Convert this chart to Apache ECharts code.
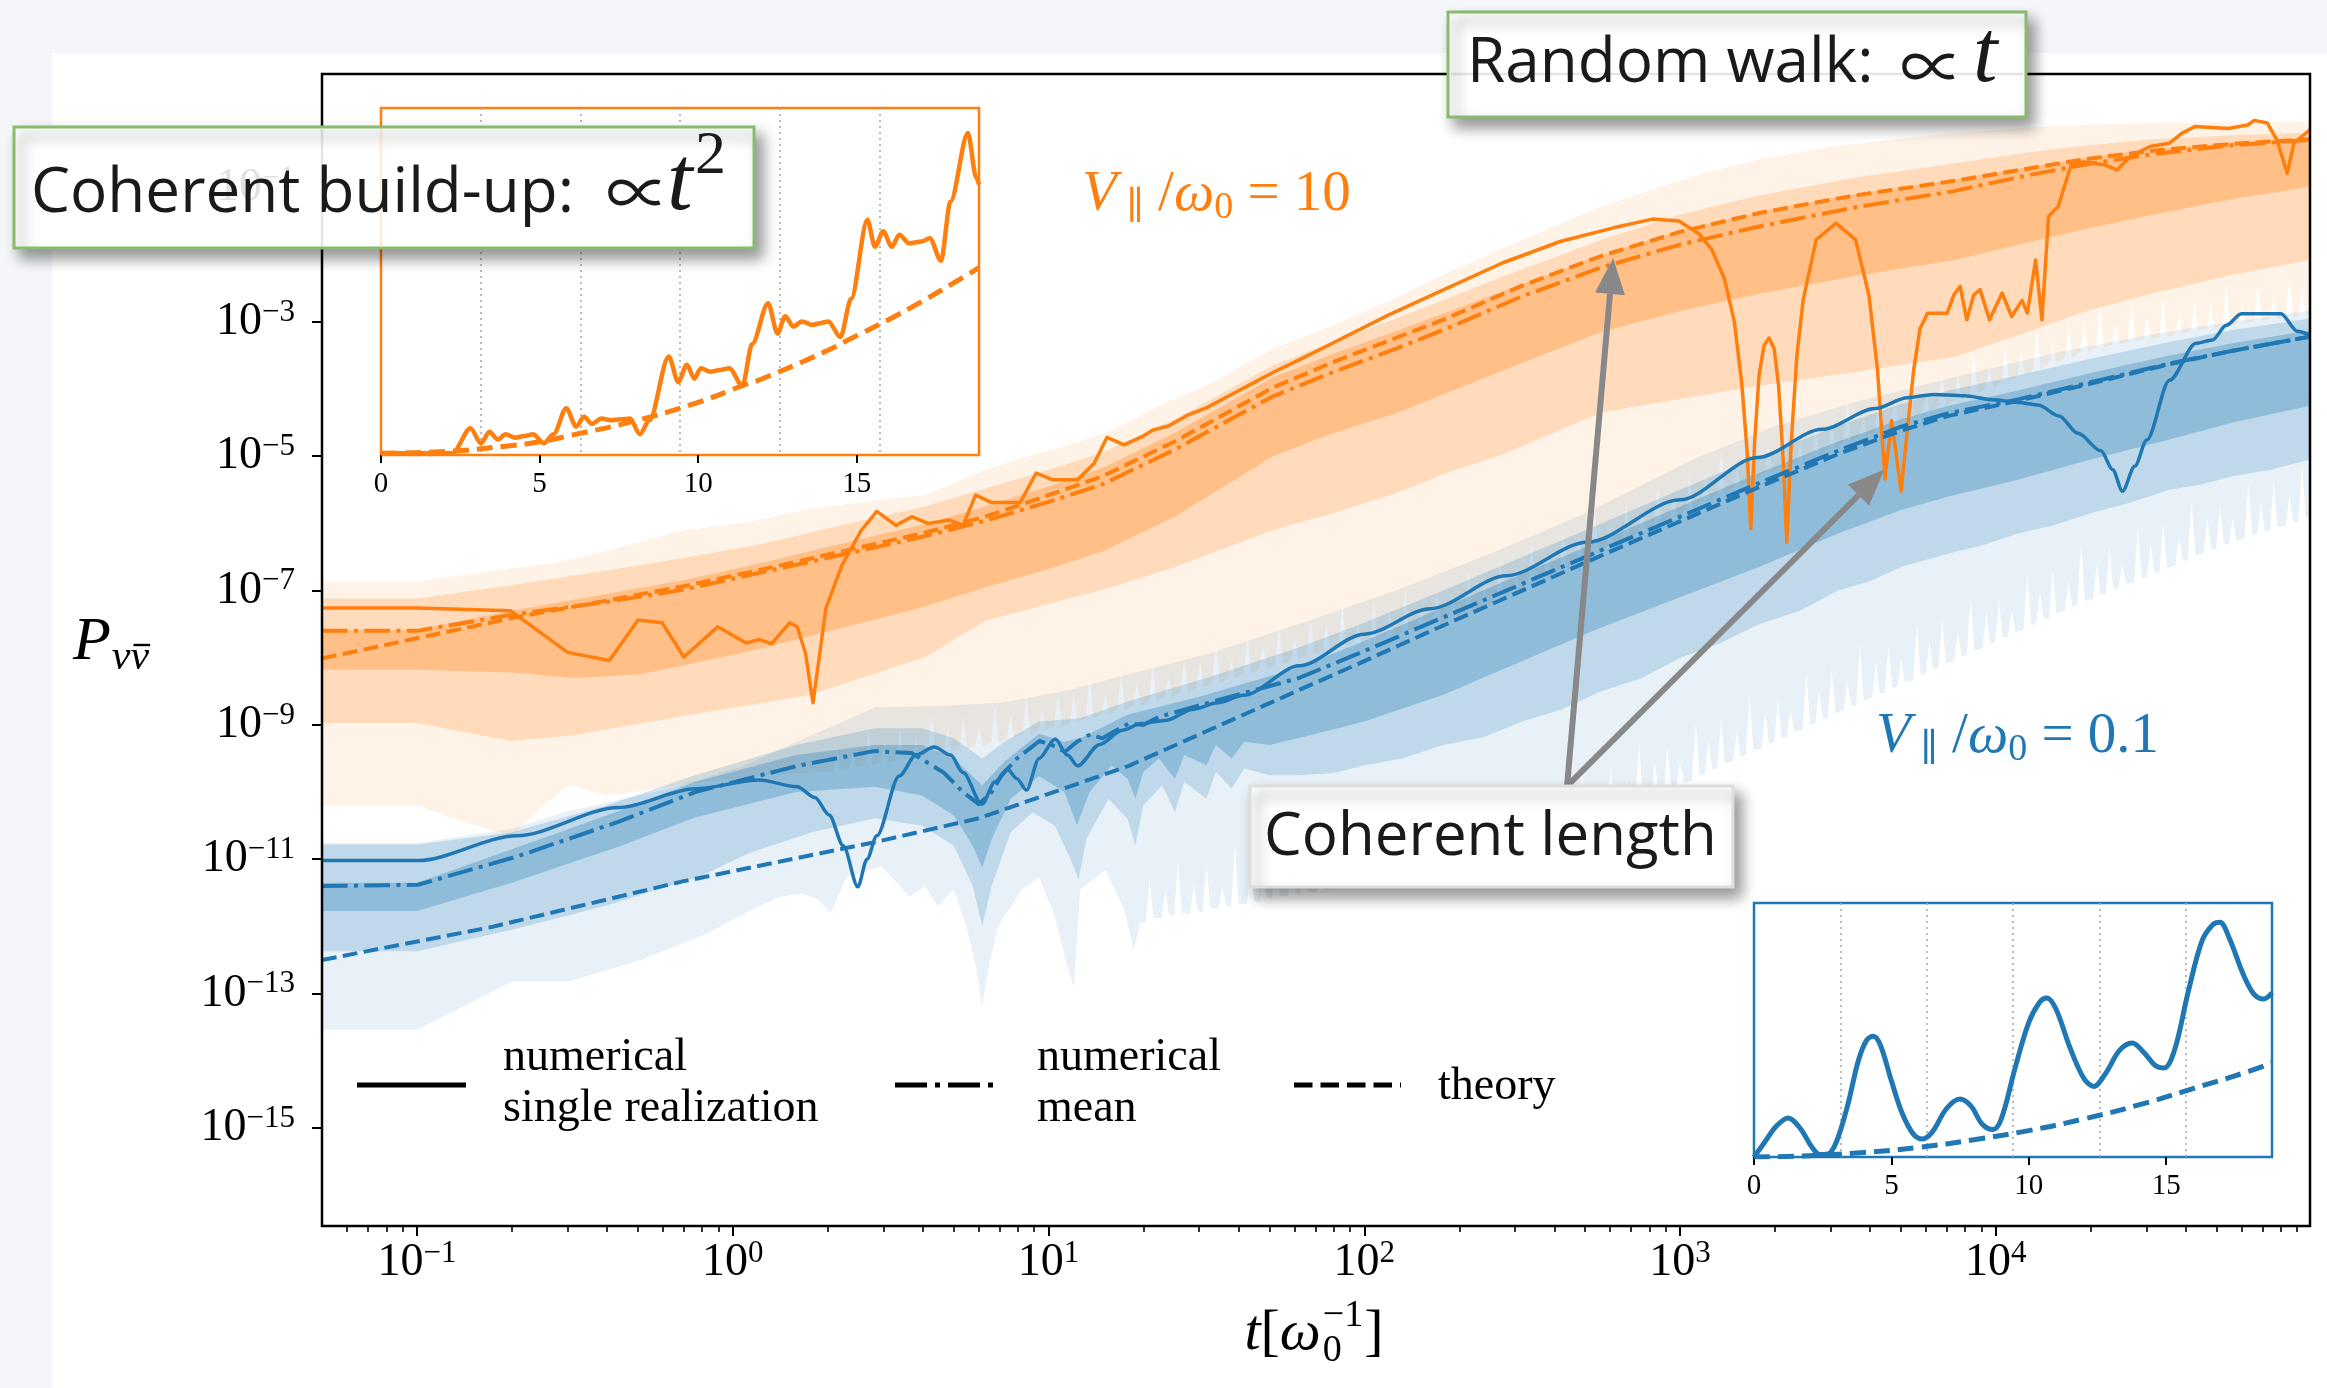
<!DOCTYPE html>
<html>
<head>
<meta charset="utf-8">
<script src="https://cdn.jsdelivr.net/npm/echarts@6/dist/echarts.min.js"></script>
<style>
html,body{margin:0;padding:0;background:#f4f6fa;}
#wrap{position:relative;width:2327px;height:1388px;overflow:hidden;}
#paper{position:absolute;left:52px;top:53px;right:0;bottom:0;background:#ffffff;}
#chart{position:absolute;left:0;top:0;width:2327px;height:1388px;}
</style>
</head>
<body>
<div id="wrap"><div id="paper"></div><div id="chart"></div></div>
<script>
// ---------------- DATA (x = log10 t, y = log10 P) ----------------
const X_MAJOR = [-1, 0, 1, 2, 3, 4];
const Y_MAJOR = [-15, -13, -11, -9, -7, -5, -3, -1];
const INSET_TICKS = [0, 5, 10, 15];

const orangeSingle = [[-1.301,-7.26],[-1.0,-7.26],[-0.704,-7.30],[-0.523,-7.92],[-0.391,-8.04],[-0.30,-7.44],[-0.224,-7.48],[-0.155,-7.99],[-0.048,-7.54],[0.042,-7.78],[0.083,-7.73],[0.123,-7.79],[0.18,-7.48],[0.204,-7.54],[0.23,-7.93],[0.254,-8.67],[0.275,-7.95],[0.295,-7.26],[0.345,-6.63],[0.406,-6.11],[0.456,-5.82],[0.517,-6.03],[0.567,-5.90],[0.618,-6.00],[0.688,-5.95],[0.729,-6.03],[0.769,-5.58],[0.82,-5.69],[0.91,-5.69],[0.961,-5.25],[1.011,-5.35],[1.092,-5.35],[1.144,-5.11],[1.185,-4.72],[1.239,-4.83],[1.30,-4.70],[1.331,-4.61],[1.38,-4.55],[1.44,-4.39],[1.50,-4.28],[1.567,-4.11],[1.64,-3.93],[1.712,-3.75],[1.80,-3.55],[1.894,-3.33],[2.076,-2.90],[2.257,-2.51],[2.439,-2.12],[2.623,-1.80],[2.789,-1.60],[2.913,-1.47],[2.996,-1.50],[3.058,-1.68],[3.10,-1.92],[3.14,-2.35],[3.172,-3.00],[3.195,-3.90],[3.212,-4.90],[3.224,-6.08],[3.236,-4.80],[3.25,-3.80],[3.266,-3.35],[3.282,-3.24],[3.298,-3.40],[3.312,-3.95],[3.326,-5.00],[3.338,-6.28],[3.352,-4.80],[3.37,-3.50],[3.39,-2.67],[3.431,-1.78],[3.494,-1.53],[3.556,-1.78],[3.598,-2.60],[3.625,-3.70],[3.649,-5.34],[3.67,-4.47],[3.70,-5.52],[3.72,-4.60],[3.74,-3.71],[3.76,-3.10],[3.784,-2.87],[3.846,-2.87],[3.867,-2.60],[3.887,-2.47],[3.908,-2.97],[3.93,-2.60],[3.95,-2.52],[3.98,-2.97],[4.02,-2.57],[4.05,-2.92],[4.083,-2.68],[4.10,-2.87],[4.126,-2.08],[4.146,-2.97],[4.167,-1.43],[4.198,-1.28],[4.24,-0.64],[4.28,-0.62],[4.343,-0.66],[4.384,-0.74],[4.426,-0.54],[4.488,-0.39],[4.55,-0.34],[4.59,-0.19],[4.632,-0.09],[4.736,-0.12],[4.798,-0.07],[4.819,0.0],[4.86,-0.04],[4.89,-0.29],[4.923,-0.79],[4.944,-0.34],[4.995,-0.14]];
const orangeMean = [[-1.301,-7.60],[-1.0,-7.60],[-0.70,-7.36],[-0.40,-7.17],[-0.16,-6.99],[0.10,-6.72],[0.39,-6.42],[0.60,-6.20],[0.80,-5.96],[1.00,-5.68],[1.17,-5.42],[1.40,-4.90],[1.71,-4.11],[1.90,-3.75],[2.10,-3.40],[2.26,-3.10],[2.50,-2.62],[2.75,-2.19],[3.00,-1.85],[3.25,-1.58],[3.55,-1.30],[3.87,-1.05],[4.10,-0.82],[4.28,-0.66],[4.50,-0.50],[4.75,-0.37],[4.995,-0.29]];
const orangeTheory = [[-1.301,-8.01],[-1.0,-7.71],[-0.70,-7.41],[-0.40,-7.15],[-0.16,-6.94],[0.10,-6.68],[0.39,-6.37],[0.60,-6.15],[0.80,-5.90],[1.00,-5.58],[1.17,-5.30],[1.40,-4.78],[1.71,-3.98],[1.90,-3.60],[2.10,-3.24],[2.26,-2.95],[2.50,-2.46],[2.75,-2.02],[3.00,-1.66],[3.25,-1.38],[3.55,-1.12],[3.87,-0.90],[4.10,-0.72],[4.28,-0.58],[4.50,-0.45],[4.75,-0.35],[4.995,-0.28]];

const blueSingle = [[-1.301,-11.02],[-0.997,-11.02],[-0.684,-10.65],[-0.361,-10.23],[-0.119,-9.95],[0.083,-9.82],[0.204,-9.92],[0.26,-10.08],[0.305,-10.34],[0.35,-10.80],[0.396,-11.41],[0.425,-11.00],[0.456,-10.65],[0.527,-9.76],[0.58,-9.45],[0.638,-9.33],[0.69,-9.45],[0.729,-9.71],[0.789,-10.18],[0.83,-9.85],[0.87,-9.66],[0.90,-9.80],[0.93,-9.97],[0.97,-9.50],[1.021,-9.21],[1.06,-9.45],[1.092,-9.61],[1.162,-9.29],[1.233,-9.08],[1.294,-8.98],[1.374,-8.93],[1.455,-8.77],[1.536,-8.67],[1.617,-8.56],[1.794,-8.12],[2.0,-7.65],[2.209,-7.27],[2.45,-6.78],[2.706,-6.28],[3.0,-5.65],[3.245,-5.02],[3.45,-4.60],[3.618,-4.29],[3.72,-4.13],[3.804,-4.08],[3.90,-4.10],[3.991,-4.16],[4.07,-4.20],[4.136,-4.24],[4.20,-4.40],[4.26,-4.66],[4.333,-4.92],[4.37,-5.20],[4.401,-5.52],[4.44,-5.15],[4.478,-4.76],[4.55,-3.87],[4.634,-3.32],[4.686,-3.27],[4.73,-3.05],[4.778,-2.88],[4.85,-2.88],[4.903,-2.88],[4.955,-3.14],[4.995,-3.20]];
const blueMean = [[-1.301,-11.40],[-0.997,-11.38],[-0.684,-10.96],[-0.361,-10.44],[-0.119,-10.00],[0.204,-9.61],[0.446,-9.39],[0.567,-9.42],[0.668,-9.71],[0.729,-10.00],[0.779,-10.18],[0.82,-10.00],[0.85,-9.76],[0.90,-9.50],[0.971,-9.24],[1.01,-9.30],[1.052,-9.40],[1.09,-9.25],[1.133,-9.14],[1.17,-9.20],[1.20,-9.12],[1.254,-8.98],[1.30,-9.00],[1.35,-8.88],[1.455,-8.74],[1.60,-8.55],[1.794,-8.30],[2.0,-7.90],[2.25,-7.40],[2.5,-6.90],[2.75,-6.40],[3.0,-5.90],[3.25,-5.40],[3.5,-4.92],[3.7,-4.56],[3.85,-4.36],[4.074,-4.15],[4.3,-3.90],[4.55,-3.62],[4.75,-3.43],[4.995,-3.22]];
const blueTheory = [[-1.301,-12.50],[-0.765,-12.01],[-0.159,-11.33],[0.446,-10.75],[0.779,-10.39],[1.254,-9.61],[1.794,-8.48],[2.0,-8.05],[2.25,-7.52],[2.5,-7.00],[2.75,-6.48],[3.0,-5.97],[3.25,-5.46],[3.5,-4.97],[3.7,-4.62],[3.85,-4.40],[4.074,-4.17],[4.3,-3.92],[4.55,-3.63],[4.75,-3.43],[4.995,-3.22]];

// percentile bands (upper / lower edges)
const orangeOuterUpper = [[-1.301,-6.87],[-1.0,-6.87],[-0.75,-6.70],[-0.55,-6.58],[-0.35,-6.35],[-0.16,-6.11],[0.05,-5.98],[0.24,-5.79],[0.45,-5.66],[0.61,-5.58],[0.70,-5.40],[0.79,-5.22],[0.90,-5.05],[1.05,-4.85],[1.20,-4.62],[1.35,-4.25],[1.50,-3.95],[1.71,-3.40],[1.90,-3.05],[2.08,-2.69],[2.25,-2.30],[2.44,-1.90],[2.60,-1.58],[2.74,-1.30],[2.90,-1.05],[3.05,-0.82],[3.25,-0.58],[3.50,-0.38],[3.87,-0.19],[4.20,-0.08],[4.49,-0.04],[4.995,-0.02]];
const orangeOuterLower = [[-1.301,-10.20],[-1.0,-10.20],[-0.85,-10.45],[-0.70,-10.65],[-0.60,-10.2],[-0.52,-9.89],[-0.40,-10.05],[-0.25,-9.95],[-0.10,-9.85],[0.0,-9.8],[0.10,-9.75],[0.20,-9.72],[0.30,-9.70],
[0.318,-9.68],[0.33,-9.28],[0.342,-9.68],[0.368,-9.64],[0.38,-9.39],[0.392,-9.64],[0.418,-9.6],[0.43,-9.1],[0.442,-9.6],[0.468,-9.56],[0.48,-9.26],[0.492,-9.56],[0.518,-9.52],[0.53,-9.07],[0.542,-9.52],[0.568,-9.48],[0.58,-9.18],[0.592,-9.48],[0.618,-9.44],[0.63,-8.84],[0.642,-9.44],[0.668,-9.4],[0.68,-9.05],[0.692,-9.4],[0.718,-9.36],[0.73,-8.86],[0.742,-9.36],[0.768,-9.32],[0.78,-9.02],[0.792,-9.32],[0.818,-9.26],[0.83,-8.71],[0.842,-9.26],[0.868,-9.2],[0.88,-8.85],[0.892,-9.2],[0.918,-9.14],[0.93,-8.54],[0.942,-9.14],[0.968,-9.08],[0.98,-8.78],[0.992,-9.08],
[1.018,-9.02],[1.03,-8.52],[1.042,-9.02],[1.068,-8.96],[1.08,-8.56],[1.092,-8.96],[1.118,-8.9],[1.13,-8.25],[1.142,-8.9],[1.168,-8.84],[1.18,-8.54],[1.192,-8.84],[1.218,-8.78],[1.23,-8.23],[1.242,-8.78],[1.268,-8.72],[1.28,-8.37],[1.292,-8.72],[1.318,-8.66],[1.33,-8.06],[1.342,-8.66],[1.368,-8.59],[1.38,-8.29],[1.392,-8.59],[1.418,-8.52],[1.43,-8.02],[1.442,-8.52],[1.468,-8.45],[1.48,-8.05],[1.492,-8.45],[1.518,-8.38],[1.53,-7.73],[1.542,-8.38],[1.568,-8.31],[1.58,-8.01],[1.592,-8.31],[1.618,-8.24],[1.63,-7.69],[1.642,-8.24],[1.668,-8.17],[1.68,-7.82],[1.692,-8.17],[1.718,-8.1],[1.73,-7.5],[1.742,-8.1],[1.768,-8.03],[1.78,-7.73],[1.792,-8.03],[1.818,-7.96],[1.83,-7.46],[1.842,-7.96],[1.868,-7.9],[1.88,-7.5],[1.892,-7.9],[1.918,-7.84],[1.93,-7.19],[1.942,-7.84],[1.968,-7.78],[1.98,-7.48],[1.992,-7.78],
[2.018,-7.72],[2.03,-7.17],[2.042,-7.72],[2.068,-7.66],[2.08,-7.31],[2.092,-7.66],[2.118,-7.6],[2.13,-7.0],[2.142,-7.6],[2.168,-7.54],[2.18,-7.24],[2.192,-7.54],[2.218,-7.48],[2.23,-6.98],[2.242,-7.48],[2.268,-7.42],[2.28,-7.02],[2.292,-7.42],[2.318,-7.33],[2.33,-6.68],[2.342,-7.33],[2.368,-7.22],[2.38,-6.92],[2.392,-7.22],[2.418,-7.11],[2.43,-6.56],[2.442,-7.11],[2.468,-7.0],[2.48,-6.65],[2.492,-7.0],[2.518,-6.89],[2.53,-6.29],[2.542,-6.89],[2.568,-6.78],[2.58,-6.48],[2.592,-6.78],[2.618,-6.67],[2.63,-6.17],[2.642,-6.67],[2.668,-6.56],[2.68,-6.16],[2.692,-6.56],[2.718,-6.45],[2.73,-5.8],[2.742,-6.45],[2.768,-6.34],[2.78,-6.04],[2.792,-6.34],[2.818,-6.23],[2.83,-5.68],[2.842,-6.23],[2.868,-6.12],[2.88,-5.77],[2.892,-6.12],[2.918,-6.01],[2.93,-5.41],[2.942,-6.01],[2.968,-5.9],[2.98,-5.6],[2.992,-5.9],
[3.018,-5.79],[3.03,-5.29],[3.042,-5.79],[3.068,-5.68],[3.08,-5.28],[3.092,-5.68],[3.118,-5.57],[3.13,-4.92],[3.142,-5.57],[3.168,-5.46],[3.18,-5.16],[3.192,-5.46],[3.218,-5.35],[3.23,-4.8],[3.242,-5.35],[3.268,-5.24],[3.28,-4.89],[3.292,-5.24],[3.318,-5.15],[3.33,-4.55],[3.342,-5.15],[3.368,-5.06],[3.38,-4.76],[3.392,-5.06],[3.418,-4.97],[3.43,-4.47],[3.442,-4.97],[3.468,-4.88],[3.48,-4.48],[3.492,-4.88],[3.518,-4.79],[3.53,-4.14],[3.542,-4.79],[3.568,-4.7],[3.58,-4.4],[3.592,-4.7],[3.618,-4.61],[3.63,-4.06],[3.642,-4.61],[3.668,-4.52],[3.68,-4.17],[3.692,-4.52],[3.718,-4.43],[3.73,-3.83],[3.742,-4.43],[3.768,-4.34],[3.78,-4.04],[3.792,-4.34],[3.818,-4.25],[3.83,-3.75],[3.842,-4.25],[3.868,-4.16],[3.88,-3.76],[3.892,-4.16],[3.918,-4.07],[3.93,-3.42],[3.942,-4.07],[3.968,-3.98],[3.98,-3.68],[3.992,-3.98],
[4.018,-3.89],[4.03,-3.34],[4.042,-3.89],[4.068,-3.8],[4.08,-3.45],[4.092,-3.8],[4.118,-3.71],[4.13,-3.11],[4.142,-3.71],[4.168,-3.62],[4.18,-3.32],[4.192,-3.62],[4.218,-3.53],[4.23,-3.03],[4.242,-3.53],[4.268,-3.44],[4.28,-3.04],[4.292,-3.44],[4.318,-3.38],[4.33,-2.73],[4.342,-3.38],[4.368,-3.34],[4.38,-3.04],[4.392,-3.34],[4.418,-3.3],[4.43,-2.75],[4.442,-3.3],[4.468,-3.26],[4.48,-2.91],[4.492,-3.26],[4.518,-3.22],[4.53,-2.62],[4.542,-3.22],[4.568,-3.18],[4.58,-2.88],[4.592,-3.18],[4.618,-3.14],[4.63,-2.64],[4.642,-3.14],[4.668,-3.1],[4.68,-2.7],[4.692,-3.1],[4.718,-3.06],[4.73,-2.41],[4.742,-3.06],[4.768,-3.02],[4.78,-2.72],[4.792,-3.02],[4.818,-2.98],[4.83,-2.43],[4.842,-2.98],[4.868,-2.96],[4.88,-2.61],[4.892,-2.96],[4.918,-2.93],[4.93,-2.33],[4.942,-2.93],[4.958,-2.91],[4.97,-2.51],[4.982,-2.91],[4.995,-2.9]];
const orangeMidUpper = [[-1.301,-7.12],[-1.0,-7.12],[-0.70,-6.92],[-0.40,-6.70],[-0.16,-6.52],[0.10,-6.30],[0.39,-5.98],[0.60,-5.76],[0.80,-5.48],[1.00,-5.20],[1.17,-4.95],[1.40,-4.45],[1.71,-3.65],[1.90,-3.30],[2.10,-2.95],[2.26,-2.66],[2.44,-2.32],[2.75,-1.78],[3.00,-1.40],[3.25,-1.12],[3.55,-0.86],[3.87,-0.64],[4.10,-0.48],[4.28,-0.38],[4.50,-0.28],[4.75,-0.22],[4.995,-0.18]];
const orangeMidLower = [[-1.301,-8.97],[-1.0,-8.97],[-0.70,-9.24],[-0.50,-9.15],[-0.16,-8.87],[0.24,-8.56],[0.61,-7.99],[0.80,-7.45],[1.00,-7.20],[1.20,-6.95],[1.40,-6.65],[1.71,-6.10],[1.90,-5.85],[2.10,-5.55],[2.26,-5.25],[2.44,-4.97],[2.75,-4.35],[3.00,-4.15],[3.25,-3.95],[3.55,-3.75],[3.87,-3.52],[4.10,-3.15],[4.28,-2.85],[4.50,-2.57],[4.75,-2.30],[4.995,-2.08]];
const orangeInnerUpper = [[-1.301,-7.58],[-1.0,-7.58],[-0.70,-7.30],[-0.40,-7.05],[-0.16,-6.85],[0.10,-6.58],[0.39,-6.25],[0.60,-6.02],[0.80,-5.75],[1.00,-5.45],[1.17,-5.18],[1.40,-4.65],[1.71,-3.83],[1.90,-3.48],[2.10,-3.14],[2.26,-2.86],[2.44,-2.54],[2.75,-2.01],[3.00,-1.64],[3.25,-1.36],[3.55,-1.10],[3.87,-0.88],[4.10,-0.70],[4.28,-0.56],[4.50,-0.43],[4.75,-0.33],[4.995,-0.26]];
const orangeInnerLower = [[-1.301,-8.18],[-1.0,-8.18],[-0.70,-8.22],[-0.50,-8.30],[-0.30,-8.25],[-0.16,-8.12],[0.10,-7.85],[0.39,-7.50],[0.60,-7.25],[0.80,-6.95],[1.00,-6.68],[1.17,-6.42],[1.40,-5.90],[1.71,-5.00],[1.90,-4.66],[2.10,-4.36],[2.26,-4.06],[2.44,-3.72],[2.75,-3.15],[3.00,-2.84],[3.25,-2.58],[3.55,-2.32],[3.87,-2.08],[4.10,-1.82],[4.28,-1.62],[4.50,-1.40],[4.75,-1.17],[4.995,-0.99]];

const blueOuterUpper = [[-1.301,-10.76],[-1.0,-10.76],[-0.70,-10.55],[-0.52,-10.28],[-0.2,-9.95],[0.04,-9.60],[0.25,-9.15],[0.45,-8.74],[0.65,-8.72],[0.85,-8.67],[1.05,-8.50],[1.25,-8.25],[1.50,-7.95],[1.79,-7.50],[2.10,-7.00],[2.40,-6.45],[2.70,-5.85],[3.04,-5.05],[3.30,-4.55],[3.55,-4.20],[3.87,-3.82],[4.20,-3.45],[4.50,-3.18],[4.75,-3.00],[4.995,-2.83]];
const blueOuterLower = [[-1.301,-13.54],[-1.0,-13.54],[-0.70,-12.82],[-0.52,-12.82],[-0.29,-12.50],[-0.08,-12.10],[0.06,-11.75],[0.15,-11.56],[0.22,-11.51],[0.27,-11.60],[0.31,-11.80],[0.36,-11.26],[0.47,-11.11],[0.52,-11.35],[0.56,-11.56],[0.61,-11.41],[0.65,-11.70],[0.70,-11.45],[0.74,-12.00],[0.77,-12.6],[0.79,-13.19],[0.81,-12.6],[0.84,-12.00],[0.915,-11.45],[0.97,-11.26],[1.02,-11.85],[1.06,-12.60],[1.08,-12.9],[1.10,-11.45],[1.18,-11.16],[1.24,-11.75],[1.27,-12.35],[1.29,-11.95],
[1.308,-11.93],[1.32,-11.28],[1.332,-11.87],[1.358,-11.88],[1.37,-11.49],[1.382,-11.83],[1.398,-11.85],[1.41,-11.01],[1.422,-11.8],[1.448,-11.82],[1.46,-11.37],[1.472,-11.75],[1.488,-11.8],[1.50,-11.04],[1.512,-11.72],[1.538,-11.74],[1.55,-11.40],[1.562,-11.68],[1.578,-11.72],[1.59,-10.77],[1.602,-11.66],[1.628,-11.67],[1.64,-11.13],[1.652,-11.62],[1.668,-11.64],[1.68,-11.25],[1.692,-11.58],[1.708,-11.6],[1.72,-10.81],[1.732,-11.55],[1.758,-11.56],[1.77,-11.07],[1.782,-11.5],[1.798,-11.53],[1.81,-10.84],[1.822,-11.48],[1.848,-11.5],[1.86,-11.15],[1.872,-11.44],[1.888,-11.45],[1.90,-10.56],[1.912,-11.4],[1.938,-11.41],[1.95,-10.87],[1.962,-11.36],[1.978,-11.38],[1.99,-10.94],[2.002,-11.33],
[2.018,-11.35],[2.03,-10.6],[2.042,-11.29],[2.068,-11.3],[2.08,-10.91],[2.092,-11.25],[2.108,-11.27],[2.12,-10.42],[2.132,-11.21],[2.158,-11.22],[2.17,-10.73],[2.182,-11.17],[2.198,-11.19],[2.21,-10.55],[2.222,-11.14],[2.248,-11.15],[2.26,-10.2],[2.272,-11.09],[2.288,-11.11],[2.30,-10.67],[2.312,-11.06],[2.328,-11.08],[2.34,-10.38],[2.352,-11.02],[2.378,-11.02],[2.39,-10.63],[2.402,-10.96],[2.418,-10.96],[2.43,-10.17],[2.442,-10.9],[2.458,-10.9],[2.47,-10.35],[2.482,-10.83],[2.508,-10.8],[2.52,-9.91],[2.532,-10.74],[2.548,-10.73],[2.56,-10.29],[2.572,-10.67],[2.588,-10.66],[2.60,-10.02],[2.612,-10.6],[2.638,-10.58],[2.65,-10.19],[2.662,-10.52],[2.678,-10.51],[2.69,-9.67],[2.702,-10.45],[2.728,-10.43],[2.74,-9.94],[2.752,-10.37],[2.768,-10.36],[2.78,-9.62],[2.792,-10.3],[2.818,-10.27],[2.83,-9.83],[2.842,-10.21],[2.858,-10.2],[2.87,-9.26],[2.882,-10.13],[2.908,-10.1],[2.92,-9.55],[2.932,-10.02],[2.948,-10.01],[2.96,-9.32],[2.972,-9.94],[2.988,-9.92],[3.00,-9.53],[3.012,-9.86],
[3.038,-9.82],[3.05,-8.98],[3.062,-9.75],[3.078,-9.73],[3.09,-9.24],[3.102,-9.66],[3.118,-9.65],[3.13,-8.91],[3.142,-9.58],[3.168,-9.54],[3.18,-9.10],[3.192,-9.47],[3.208,-9.45],[3.22,-8.56],[3.232,-9.38],[3.258,-9.35],[3.27,-8.81],[3.282,-9.28],[3.298,-9.26],[3.31,-8.62],[3.322,-9.19],[3.338,-9.18],[3.35,-8.79],[3.362,-9.11],[3.388,-9.07],[3.40,-8.23],[3.412,-9.0],[3.428,-8.98],[3.44,-8.49],[3.452,-8.91],[3.468,-8.9],[3.48,-8.16],[3.492,-8.83],[3.518,-8.79],[3.53,-8.35],[3.542,-8.72],[3.558,-8.71],[3.57,-7.77],[3.582,-8.64],[3.608,-8.6],[3.62,-8.06],[3.632,-8.53],[3.648,-8.52],[3.66,-7.83],[3.672,-8.45],[3.688,-8.43],[3.70,-8.04],[3.712,-8.36],[3.738,-8.33],[3.75,-7.49],[3.762,-8.26],[3.778,-8.24],[3.79,-7.75],[3.802,-8.17],[3.818,-8.15],[3.83,-7.41],[3.842,-8.08],[3.868,-8.05],[3.88,-7.61],[3.892,-7.98],[3.908,-7.96],[3.92,-7.07],[3.932,-7.89],[3.958,-7.86],[3.97,-7.32],[3.982,-7.79],[3.998,-7.77],
[4.01,-7.13],[4.022,-7.7],[4.038,-7.69],[4.05,-7.30],[4.062,-7.62],[4.088,-7.58],[4.10,-6.74],[4.112,-7.51],[4.128,-7.5],[4.14,-7.01],[4.152,-7.43],[4.168,-7.41],[4.18,-6.67],[4.192,-7.34],[4.218,-7.3],[4.23,-6.86],[4.242,-7.23],[4.258,-7.22],[4.27,-6.28],[4.282,-7.15],[4.308,-7.13],[4.32,-6.59],[4.332,-7.06],[4.348,-7.05],[4.36,-6.36],[4.372,-6.98],[4.388,-6.97],[4.40,-6.58],[4.412,-6.9],[4.438,-6.88],[4.45,-6.04],[4.462,-6.81],[4.478,-6.8],[4.49,-6.31],[4.502,-6.73],[4.518,-6.73],[4.53,-5.99],[4.542,-6.66],[4.568,-6.63],[4.58,-6.19],[4.592,-6.56],[4.608,-6.55],[4.62,-5.66],[4.632,-6.48],[4.658,-6.45],[4.67,-5.91],[4.682,-6.38],[4.698,-6.38],[4.71,-5.74],[4.722,-6.31],[4.738,-6.31],[4.75,-5.92],[4.762,-6.25],[4.788,-6.23],[4.80,-5.39],[4.812,-6.17],[4.828,-6.17],[4.84,-5.68],[4.852,-6.11],[4.868,-6.11],[4.88,-5.37],[4.892,-6.05],[4.918,-6.04],[4.93,-5.6],[4.942,-5.98],[4.958,-5.98],[4.97,-5.14],[4.982,-5.93],[4.995,-5.9]];
const blueMidUpper = [[-1.301,-10.78],[-1.0,-10.78],[-0.70,-10.60],[-0.40,-10.20],[-0.12,-9.75],[0.20,-9.30],[0.45,-9.05],[0.60,-9.05],[0.70,-9.20],[0.79,-9.50],[0.86,-9.25],[0.97,-8.95],[1.10,-8.90],[1.25,-8.65],[1.50,-8.30],[1.79,-7.85],[2.0,-7.48],[2.25,-7.00],[2.5,-6.50],[2.75,-6.00],[3.0,-5.50],[3.25,-5.00],[3.5,-4.55],[3.7,-4.22],[3.85,-4.02],[4.07,-3.80],[4.3,-3.55],[4.55,-3.30],[4.75,-3.12],[4.995,-2.95]];
const blueMidLower = [[-1.301,-12.37],[-1.0,-12.37],[-0.70,-12.05],[-0.40,-11.69],[-0.10,-11.25],[0.05,-10.91],[0.25,-10.60],[0.45,-10.39],[0.60,-10.50],[0.70,-10.80],[0.76,-11.40],[0.79,-12.00],[0.82,-11.40],[0.88,-10.60],[0.95,-10.30],[1.02,-10.50],[1.07,-11.00],[1.095,-11.30],[1.12,-10.70],[1.19,-10.10],[1.25,-10.40],[1.275,-10.80],[1.30,-10.20],[1.36,-9.90],[1.40,-10.30],[1.43,-9.85],[1.50,-10.10],[1.53,-9.70],[1.58,-9.95],[1.62,-9.65],[1.70,-9.75],[1.79,-9.75],[1.9,-9.72],[2.0,-9.60],[2.12,-9.50],[2.25,-9.30],[2.38,-9.18],[2.5,-8.95],[2.62,-8.78],[2.75,-8.50],[2.88,-8.30],[3.0,-8.00],[3.12,-7.80],[3.25,-7.50],[3.38,-7.30],[3.5,-7.00],[3.6,-6.86],[3.7,-6.65],[3.85,-6.45],[3.96,-6.32],[4.07,-6.15],[4.18,-6.03],[4.3,-5.85],[4.42,-5.70],[4.55,-5.50],[4.65,-5.42],[4.75,-5.30],[4.87,-5.20],[4.995,-5.05]];
const blueInnerUpper = [[-1.301,-11.35],[-1.0,-11.35],[-0.70,-10.85],[-0.36,-10.28],[-0.12,-9.85],[0.20,-9.45],[0.45,-9.30],[0.60,-9.30],[0.70,-9.50],[0.79,-9.90],[0.86,-9.55],[0.97,-9.13],[1.05,-9.25],[1.10,-9.20],[1.25,-8.85],[1.50,-8.55],[1.79,-8.15],[2.0,-7.75],[2.25,-7.25],[2.5,-6.75],[2.75,-6.25],[3.0,-5.75],[3.25,-5.25],[3.5,-4.78],[3.7,-4.45],[3.85,-4.25],[4.07,-4.02],[4.3,-3.76],[4.55,-3.50],[4.75,-3.32],[4.995,-3.13]];
const blueInnerLower = [[-1.301,-11.77],[-1.0,-11.77],[-0.70,-11.35],[-0.36,-10.81],[-0.12,-10.38],[0.20,-10.00],[0.45,-9.92],[0.60,-10.05],[0.70,-10.35],[0.76,-10.80],[0.79,-11.12],[0.82,-10.70],[0.88,-10.10],[0.97,-9.76],[1.05,-10.00],[1.09,-10.49],[1.13,-10.00],[1.20,-9.60],[1.25,-9.80],[1.275,-10.10],[1.30,-9.70],[1.35,-9.50],[1.40,-9.80],[1.43,-9.45],[1.50,-9.60],[1.53,-9.30],[1.58,-9.50],[1.62,-9.25],[1.70,-9.30],[1.79,-9.20],[2.0,-8.95],[2.25,-8.55],[2.5,-8.05],[2.75,-7.55],[3.0,-7.10],[3.25,-6.65],[3.5,-6.15],[3.7,-5.80],[3.85,-5.60],[4.07,-5.35],[4.3,-5.05],[4.55,-4.75],[4.75,-4.50],[4.995,-4.25]];

// insets: t (linear, in units of 1/omega0) vs P (normalised, linear)
const orangeInsetSingle = [[0,0.005],[2.25,0.005],[2.82,0.077],[3.15,0.034],[3.42,0.067],[3.68,0.045],[3.93,0.06],[4.23,0.05],[4.53,0.055],[4.79,0.06],[5.14,0.034],[5.44,0.06],[5.84,0.135],[6.15,0.082],[6.40,0.11],[6.65,0.09],[6.95,0.105],[7.25,0.10],[7.55,0.103],[7.85,0.105],[8.16,0.06],[8.46,0.10],[9.07,0.284],[9.37,0.21],[9.64,0.26],[9.88,0.22],[10.08,0.25],[10.38,0.24],[10.68,0.245],[10.98,0.25],[11.39,0.20],[11.70,0.32],[12.2,0.4375],[12.5,0.35],[12.74,0.40],[13.0,0.37],[13.27,0.385],[13.6,0.375],[13.85,0.38],[14.1,0.385],[14.48,0.34],[14.82,0.45],[15.33,0.678],[15.57,0.60],[15.83,0.645],[16.1,0.60],[16.34,0.635],[16.64,0.61],[17.04,0.615],[17.3,0.625],[17.65,0.56],[17.95,0.73],[18.5,0.928],[18.76,0.80],[18.85,0.78]];
const orangeInsetTheory = [[0,0.005],[2,0.01],[4,0.026],[5,0.038],[6,0.057],[8,0.098],[10,0.152],[11.4,0.20],[12,0.219],[14,0.298],[14.8,0.335],[16,0.39],[17,0.44],[18,0.493],[18.85,0.54]];
const blueInsetSingle = [[0,0],[0.4,0.06],[0.8,0.12],[1.24,0.154],[1.7,0.11],[2.1,0.04],[2.4,0.01],[2.7,0.012],[3.0,0.06],[3.4,0.20],[3.8,0.38],[4.1,0.46],[4.34,0.475],[4.6,0.44],[5.0,0.30],[5.4,0.17],[5.8,0.09],[6.13,0.071],[6.5,0.10],[7.0,0.19],[7.49,0.228],[7.9,0.20],[8.3,0.13],[8.69,0.108],[9.0,0.15],[9.5,0.35],[10.0,0.53],[10.4,0.61],[10.66,0.626],[11.0,0.58],[11.5,0.43],[12.0,0.31],[12.36,0.278],[12.8,0.33],[13.3,0.42],[13.76,0.449],[14.2,0.41],[14.6,0.36],[14.92,0.35],[15.3,0.42],[15.8,0.65],[16.3,0.85],[16.7,0.915],[16.95,0.924],[17.3,0.86],[17.8,0.72],[18.2,0.64],[18.54,0.622],[18.85,0.646]];
const blueInsetTheory = [[0,0],[2,0.005],[4,0.018],[6,0.038],[8,0.068],[10,0.104],[12,0.15],[14,0.205],[16,0.27],[18,0.337],[18.85,0.37]];

// annotation anchors (data coordinates)
const ARROW_BASE = [2.642, -9.91];
const ARROW_TIPS = [[2.788, -2.05], [3.646, -5.20]];

// ---------------- LAYOUT ----------------
const SERIF_NAME = 'Liberation Serif';
const SERIF = '"Liberation Serif", "DejaVu Serif", serif';
const C_OR = '#ff7f0e', C_BL = '#1f77b4';
const X_MIN = -1.301, X_MAX = 4.995, Y_MIN = -16.46, Y_MAX = 0.69;
const G = {left: 322, top: 74, width: 1988, height: 1152};
const GO = {left: 381, top: 108, width: 598, height: 347};
const GB = {left: 1754, top: 903, width: 518, height: 254};
const T_MAX = 6 * Math.PI;

const X_MINOR = [];
for (let e = -2; e <= 4; e++) for (let k = 2; k <= 9; k++) {
  const v = e + Math.log10(k);
  if (v > X_MIN + 0.01 && v < X_MAX) X_MINOR.push(v);
}

function powLabel(v) {
  const n = Math.round(v);
  return '{b|10}{s|' + (n < 0 ? '\u2212' + (-n) : String(n)) + '}';
}
const RICH_TICK = {
  b: {fontFamily: SERIF, fontSize: 46, lineHeight: 50, color: '#000'},
  s: {fontFamily: SERIF, fontSize: 31, lineHeight: 36, verticalAlign: 'top', color: '#000'}
};

function band(upper, lower, fill) {
  const pts = upper.concat(lower.slice().reverse());
  return {
    type: 'custom', xAxisIndex: 0, yAxisIndex: 0, z: 1, silent: true, clip: true, animation: false,
    data: [pts[0]],
    renderItem: function (params, api) {
      return {type: 'polygon', shape: {points: pts.map(p => api.coord(p))}, style: {fill: fill}};
    }
  };
}
function line(data, color, width, dash, extra) {
  return Object.assign({
    type: 'line', data: data, showSymbol: false, symbol: 'none', xAxisIndex: 0, yAxisIndex: 0,
    z: 3, silent: true, animation: false,
    lineStyle: {color: color, width: width, type: dash || 'solid', cap: 'butt', join: 'round'}
  }, extra || {});
}
const DASH = [14.8, 6.4], DASHDOT = [25.6, 6.4, 4, 6.4];

function insetX(gi) {
  return [
    {type: 'value', gridIndex: gi, position: 'bottom', min: 0, max: T_MAX, z: 1,
      axisLine: {show: false, onZero: false}, splitLine: {show: false},
      axisTick: {show: true, length: 8, lineStyle: {color: '#000', width: 2}, customValues: INSET_TICKS},
      axisLabel: {customValues: INSET_TICKS, margin: 14, color: '#000', fontFamily: SERIF, fontSize: 29, lineHeight: 30}},
    {type: 'value', gridIndex: gi, position: 'bottom', min: 0, max: T_MAX, interval: Math.PI, z: 1,
      axisLine: {show: false, onZero: false}, axisTick: {show: false}, axisLabel: {show: false},
      splitLine: {show: true, showMinLine: false, showMaxLine: false, lineStyle: {color: '#aaaaaa', width: 1.6, type: [2, 4]}}}
  ];
}
function insetY(gi) {
  return {type: 'value', gridIndex: gi, min: 0, max: 1, axisLine: {show: false, onZero: false},
    axisTick: {show: false}, axisLabel: {show: false}, splitLine: {show: false}};
}

const option = {
  backgroundColor: 'transparent',
  animation: false,
  grid: [
    Object.assign({show: false, outerBoundsMode: 'none', containLabel: false}, G),
    Object.assign({show: true, outerBoundsMode: 'none', containLabel: false, backgroundColor: '#fff', borderColor: C_OR, borderWidth: 2.5}, GO),
    Object.assign({show: true, outerBoundsMode: 'none', containLabel: false, backgroundColor: '#fff', borderColor: C_BL, borderWidth: 2.5}, GB)
  ],
  xAxis: [
    {type: 'value', gridIndex: 0, position: 'bottom', min: X_MIN, max: X_MAX,
      axisLine: {show: false, onZero: false}, splitLine: {show: false},
      axisTick: {show: true, length: 10, lineStyle: {color: '#000', width: 2}, customValues: X_MAJOR},
      axisLabel: {customValues: X_MAJOR, formatter: powLabel, margin: 12, rich: RICH_TICK}},
    {type: 'value', gridIndex: 0, position: 'bottom', min: X_MIN, max: X_MAX,
      axisLine: {show: false, onZero: false}, splitLine: {show: false}, axisLabel: {show: false},
      axisTick: {show: true, length: 6, lineStyle: {color: '#000', width: 1.6}, customValues: X_MINOR}}
  ].concat(insetX(1), insetX(2)),
  yAxis: [
    {type: 'value', gridIndex: 0, position: 'left', min: Y_MIN, max: Y_MAX,
      axisLine: {show: false, onZero: false}, splitLine: {show: false},
      axisTick: {show: true, length: 10, lineStyle: {color: '#000', width: 2}, customValues: Y_MAJOR},
      axisLabel: {customValues: Y_MAJOR, formatter: powLabel, margin: 27, rich: RICH_TICK}},
    insetY(1), insetY(2)
  ],
  series: [
    band(orangeOuterUpper, orangeOuterLower, 'rgba(255,127,14,0.10)'),
    band(orangeMidUpper, orangeMidLower, 'rgba(255,127,14,0.20)'),
    band(orangeInnerUpper, orangeInnerLower, 'rgba(255,127,14,0.30)'),
    band(blueOuterUpper, blueOuterLower, 'rgba(31,119,180,0.10)'),
    band(blueMidUpper, blueMidLower, 'rgba(31,119,180,0.20)'),
    band(blueInnerUpper, blueInnerLower, 'rgba(31,119,180,0.30)'),
    line(orangeTheory, C_OR, 4, DASH),
    line(orangeMean, C_OR, 4, DASHDOT),
    line(orangeSingle, C_OR, 3.5, 'solid'),
    line(blueTheory, C_BL, 4, DASH),
    line(blueMean, C_BL, 4, DASHDOT),
    line(blueSingle, C_BL, 3.5, 'solid', {smooth: 0.3, smoothMonotone: 'x'}),
    line(orangeInsetTheory, C_OR, 5, [16, 8], {xAxisIndex: 2, yAxisIndex: 1, smooth: true, z: 4}),
    line(orangeInsetSingle, C_OR, 4.5, 'solid', {xAxisIndex: 2, yAxisIndex: 1, smooth: 0.3, smoothMonotone: 'x', z: 4}),
    line(blueInsetTheory, C_BL, 5, [16, 8], {xAxisIndex: 4, yAxisIndex: 2, smooth: true, z: 4}),
    line(blueInsetSingle, C_BL, 5, 'solid', {xAxisIndex: 4, yAxisIndex: 2, smooth: 0.35, z: 4})
  ]
};

const chart = echarts.init(document.getElementById('chart'), null, {renderer: 'canvas', width: 2327, height: 1388});
chart.setOption(option);

// ---------------- ANNOTATIONS ----------------
const _ctx = document.createElement('canvas').getContext('2d');
function tw(font, s) { _ctx.font = font; return _ctx.measureText(s).width; }

function arrow(p0, p1) {
  const dx = p1[0] - p0[0], dy = p1[1] - p0[1], L = Math.hypot(dx, dy), ux = dx / L, uy = dy / L;
  const HL = 36, HW = 15;
  const bx = p1[0] - ux * HL, by = p1[1] - uy * HL;
  return [
    {type: 'line', silent: true, z: 60, shape: {x1: p0[0], y1: p0[1], x2: bx, y2: by}, style: {stroke: '#888888', lineWidth: 6}},
    {type: 'polygon', silent: true, z: 60, shape: {points: [[p1[0], p1[1]], [bx - uy * HW, by + ux * HW], [bx + uy * HW, by - ux * HW]]}, style: {fill: '#888888'}}
  ];
}
const basePx = chart.convertToPixel({xAxisIndex: 0, yAxisIndex: 0}, ARROW_BASE);
const tipPx = ARROW_TIPS.map(p => chart.convertToPixel({xAxisIndex: 0, yAxisIndex: 0}, p));

function box(x, y, w, h, stroke) {
  return {type: 'rect', silent: true, z: 100, shape: {x: x, y: y, width: w, height: h},
    style: {fill: '#ffffff', stroke: stroke, lineWidth: 3,
      shadowBlur: 14, shadowOffsetX: 7, shadowOffsetY: 9, shadowColor: 'rgba(0,0,0,0.42)'}};
}
function t1(x, y, text, font, fill, align, z) {
  return {type: 'text', silent: true, z: z || 101, x: x, y: y,
    style: {text: text, font: font, fill: fill || '#1a1a1a', align: align || 'left', textAlign: align || 'left',
      verticalAlign: 'middle', textVerticalAlign: 'middle'}};
}
function txt(x, y, text, rich, align, z) {
  return {type: 'text', silent: true, z: z || 101, x: x, y: y,
    style: {text: text, rich: rich, align: align || 'left', textAlign: align || 'left', verticalAlign: 'middle', textVerticalAlign: 'middle'}};
}
function vRich(color) {
  return {
    i: {fontFamily: SERIF, fontStyle: 'italic', fontSize: 57, lineHeight: 64, fill: color},
    n: {fontFamily: SERIF, fontSize: 57, lineHeight: 64, fill: color},
    sb: {fontFamily: SERIF, fontSize: 38, lineHeight: 32, verticalAlign: 'bottom', fill: color}
  };
}
const legRich = {t: {fontFamily: SERIF, fontSize: 46, lineHeight: 51, fill: '#000'}};
const faintRich = {
  b: {fontFamily: SERIF, fontSize: 46, lineHeight: 50, fill: 'rgba(0,0,0,0.12)'},
  s: {fontFamily: SERIF, fontSize: 31, lineHeight: 36, verticalAlign: 'top', fill: 'rgba(0,0,0,0.12)'}
};

// y-axis title  P_{nu nu-bar}
const F_P = 'italic 62px "' + SERIF_NAME + '"', F_NU = 'italic 42px "' + SERIF_NAME + '"';
const pW = tw(F_P, 'P'), nuW = tw(F_NU, '\u03bd');
const nuX = 73 + pW + 1;
// x-axis title  t[omega_0^{-1}]
const F_XI = 'italic 58px "' + SERIF_NAME + '"', F_XN = '58px "' + SERIF_NAME + '"', F_XS = '38px "' + SERIF_NAME + '"';
const wT = tw(F_XI, 't'), wB = tw(F_XN, '['), wO = tw(F_XI, '\u03c9'), wS = Math.max(tw(F_XS, '0'), tw(F_XS, '\u22121')) + 3, wE = tw(F_XN, ']');
const xl0 = 1314 - (wT + wB + wO + wS + wE) / 2;
const xsS = xl0 + wT + wB + wO + 2;

const F_BOX = '62px "Open Sans"';
const F_PROP = '64px "Noto Sans CJK JP", "DejaVu Serif"';

const graphics = [
  {type: 'rect', silent: true, z: 50, shape: {x: G.left, y: G.top, width: G.width, height: G.height}, style: {fill: 'none', stroke: '#000', lineWidth: 2.5}},
  // y title
  t1(73, 643, 'P', F_P, '#000', 'left', 40),
  t1(nuX, 658, '\u03bd\u03bd', F_NU, '#000', 'left', 40),
  {type: 'line', silent: true, z: 40, shape: {x1: nuX + nuW + 3, y1: 645, x2: nuX + 2 * nuW + 1, y2: 645}, style: {stroke: '#000', lineWidth: 2.4}},
  // x title
  t1(xl0, 1334, 't', F_XI, '#000', 'left', 40),
  t1(xl0 + wT, 1334, '[', F_XN, '#000', 'left', 40),
  t1(xl0 + wT + wB, 1334, '\u03c9', F_XI, '#000', 'left', 40),
  t1(xsS, 1351, '0', F_XS, '#000', 'left', 40),
  t1(xsS, 1316, '\u22121', F_XS, '#000', 'left', 40),
  t1(xl0 + wT + wB + wO + wS, 1334, ']', F_XN, '#000', 'left', 40),
  // series labels
  txt(1082, 195, '{i|V}{sb| \u2225}{n| /}{i|\u03c9}{sb|0}{n| = 10}', vRich(C_OR), 'left', 40),
  txt(1876, 737, '{i|V}{sb| \u2225}{n| /}{i|\u03c9}{sb|0}{n| = 0.1}', vRich(C_BL), 'left', 40),
  // legend
  {type: 'line', silent: true, z: 40, shape: {x1: 357, y1: 1085, x2: 466, y2: 1085}, style: {stroke: '#000', lineWidth: 5}},
  txt(503, 1083, '{t|numerical}\n{t|single realization}', legRich, 'left', 40),
  {type: 'line', silent: true, z: 40, shape: {x1: 895, y1: 1085, x2: 1000, y2: 1085}, style: {stroke: '#000', lineWidth: 5, lineDash: [32, 8, 5, 8]}},
  txt(1037, 1083, '{t|numerical}\n{t|mean}', legRich, 'left', 40),
  {type: 'line', silent: true, z: 40, shape: {x1: 1294, y1: 1085, x2: 1401, y2: 1085}, style: {stroke: '#000', lineWidth: 5, lineDash: [18.5, 8]}},
  txt(1438, 1087, '{t|theory}', legRich, 'left', 40)
].concat(
  arrow(basePx, tipPx[0]), arrow(basePx, tipPx[1]),
  [
    box(14, 127, 740, 121, '#88bb6c'),
    // faint see-through of what lies under the slightly transparent callout
    {type: 'line', silent: true, z: 101, shape: {x1: G.left, y1: 129, x2: G.left, y2: 246}, style: {stroke: 'rgba(0,0,0,0.10)', lineWidth: 2.5}},
    {type: 'line', silent: true, z: 101, shape: {x1: GO.left, y1: 129, x2: GO.left, y2: 246}, style: {stroke: 'rgba(255,127,14,0.14)', lineWidth: 2.5}},
    txt(295, 188, '{b|10}{s|\u22121}', faintRich, 'right', 101),
    t1(31, 194, 'Coherent build-up:', F_BOX),
    t1(606, 192, '\u221d', F_PROP),
    t1(667, 185, 't', 'italic 92px "' + SERIF_NAME + '"'),
    t1(695, 157, '2', '62px "' + SERIF_NAME + '"'),
    box(1448, 12, 578, 105, '#88bb6c'),
    {type: 'line', silent: true, z: 101, shape: {x1: 1451, y1: G.top, x2: 2023, y2: G.top}, style: {stroke: 'rgba(0,0,0,0.10)', lineWidth: 2.5}},
    t1(1467, 64, 'Random walk:', F_BOX),
    t1(1900, 66, '\u221d', F_PROP),
    t1(1973, 58, 't', 'italic 88px "' + SERIF_NAME + '"'),
    box(1250, 786, 483, 101, '#dddddd'),
    t1(1264, 838, 'Coherent length', '60px "Open Sans"')
  ]
);
chart.setOption({graphic: {elements: graphics}});
</script>
</body>
</html>
